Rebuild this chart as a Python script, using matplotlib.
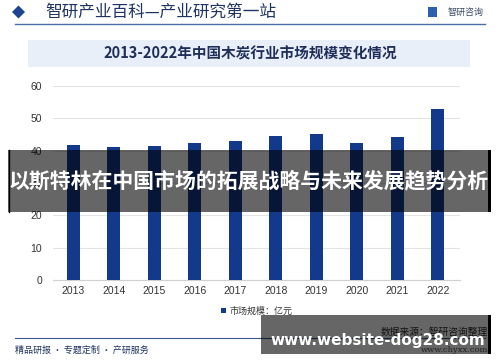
import numpy as np
import matplotlib.pyplot as plt
from matplotlib.patches import Rectangle, Polygon

plt.rcParams['font.family'] = ['Noto Sans CJK SC', 'DejaVu Sans']

# 数据
years = ['2013', '2014', '2015', '2016', '2017', '2018', '2019', '2020', '2021', '2022']
market_size = [41.8, 41.1, 41.4, 42.3, 42.9, 44.6, 45.1, 42.5, 44.3, 52.8]
yticks = [0, 10, 20, 30, 40, 50, 60]

W, H = 500, 362
fig = plt.figure(figsize=(5, 3.62), dpi=100)

def fx(px):
    return px / W

def fy(py):
    return 1 - py / H

# 页眉
fig.patches.append(Polygon([[fx(12), fy(12)], [fx(18.5), fy(5.5)], [fx(25), fy(12)], [fx(18.5), fy(18.5)]],
                           closed=True, transform=fig.transFigure, facecolor='#1f4591', edgecolor='none'))
fig.text(fx(45), fy(12), '智研产业百科—产业研究第一站', fontsize=12, color='#1f3460',
         ha='left', va='center')
fig.text(fx(484), fy(12), '智研咨询', fontsize=6.5, color='#3b4a66', ha='right', va='center')
fig.patches.append(Rectangle((fx(428), fy(17)), fx(9), 10 / H, transform=fig.transFigure,
                             facecolor='#2d5fb0', edgecolor='none'))
fig.lines.append(plt.Line2D([fx(15), fx(485)], [fy(24), fy(24)], transform=fig.transFigure,
                            color='#4a6fa5', lw=1))

# 标题框
fig.patches.append(Rectangle((fx(28), fy(67)), fx(442), 27 / H, transform=fig.transFigure,
                             facecolor='#e9eff8', edgecolor='none'))
fig.text(0.5, fy(54), '2013-2022年中国木炭行业市场规模变化情况', fontsize=10.5,
         fontweight='bold', color='#1f2f5a', ha='center', va='center')

# 柱状图
ax = fig.add_axes([fx(53), fy(280), fx(407), (280 - 86) / H])
x = np.arange(len(years))
ax.bar(x, market_size, width=0.32, color='#12398a', label='市场规模：亿元', zorder=3)
ax.set_xlim(-0.5, 9.55)
ax.set_ylim(0, 60)
ax.set_yticks(yticks)
ax.set_xticks(x)
ax.set_xticklabels(years)
ax.tick_params(axis='both', length=0, labelsize=7.5, colors='#333333')
ax.tick_params(axis='x', pad=4)
ax.tick_params(axis='y', pad=8)
for lab in ax.get_xticklabels() + ax.get_yticklabels():
    lab.set_family(['Liberation Sans', 'DejaVu Sans'])
ax.grid(axis='y', color='#e3e3e3', lw=0.8, zorder=0)
for s in ['top', 'right', 'left']:
    ax.spines[s].set_visible(False)
ax.spines['bottom'].set_color('#d0d0d0')
ax.legend(loc='center', bbox_to_anchor=(0.5, (280 - 311) / 194), frameon=False, fontsize=6.5,
          handlelength=0.6, handleheight=0.6, handletextpad=0.3, labelcolor='#333333')

# 页脚
fig.lines.append(plt.Line2D([fx(15), fx(485)], [fy(338), fy(338)], transform=fig.transFigure,
                            color='#3a5a8c', lw=0.8))
fig.text(fx(15), fy(350), '精品研报 · 专题定制 · 产研服务', fontsize=6.5, color='#1f3460',
         ha='left', va='center')
fig.text(fx(488), fy(332), '数据来源：智研咨询整理', fontsize=7, color='#333333',
         ha='right', va='center')
fig.text(fx(488), fy(350), 'www.chyxx.com', fontsize=6, color='#555555',
         ha='right', va='center', family=['DejaVu Serif'])

# 叠加横幅
fig.patches.append(Rectangle((fx(8), fy(212)), fx(482), 62 / H, transform=fig.transFigure,
                             facecolor='black', alpha=0.6, edgecolor='none', zorder=10))
fig.patches.append(Rectangle((fx(488), fy(212)), fx(3), 62 / H, transform=fig.transFigure,
                             facecolor='black', edgecolor='none', zorder=11))
fig.lines.append(plt.Line2D([fx(8.5), fx(8.5)], [fy(150), fy(212)], transform=fig.transFigure,
                            color='black', lw=1, zorder=11))
fig.text(fx(249), fy(181), '以斯特林在中国市场的拓展战略与未来发展趋势分析', fontsize=15,
         fontweight='bold', color='white', ha='center', va='center', zorder=12)

fig.patches.append(Rectangle((fx(261), fy(354)), fx(227), 39 / H, transform=fig.transFigure,
                             facecolor='black', alpha=0.6, edgecolor='none', zorder=10))
fig.patches.append(Rectangle((fx(488), fy(354)), fx(3), 39 / H, transform=fig.transFigure,
                             facecolor='black', edgecolor='none', zorder=11))
fig.text(fx(378), fy(340), 'www.website-dog28.com', fontsize=11, fontweight='bold',
         color='white', ha='center', va='center', zorder=12, family=['DejaVu Sans'])

fig.savefig('out.png', dpi=100)
